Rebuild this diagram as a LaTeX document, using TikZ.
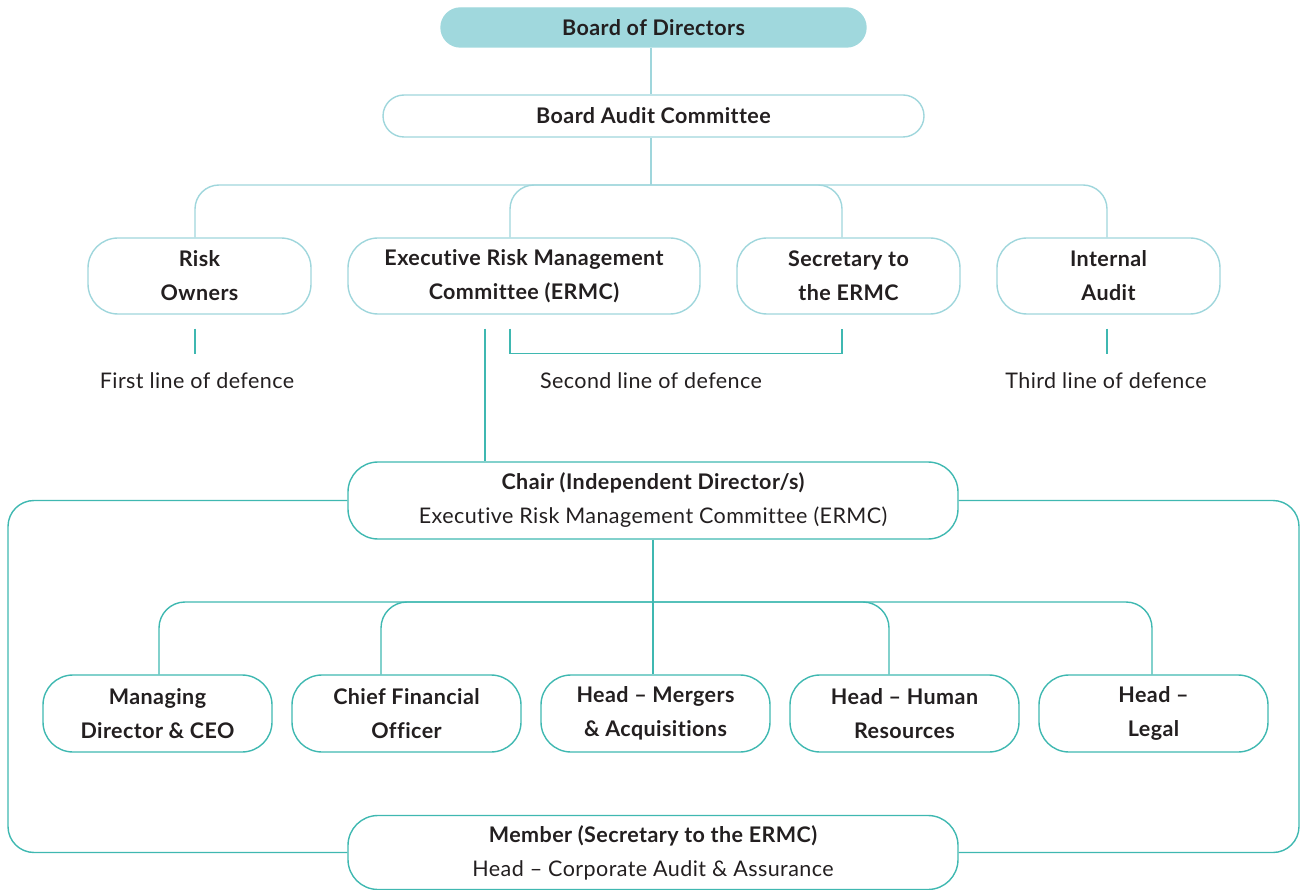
\documentclass[tikz,border=0pt]{standalone}
\usepackage{fontspec}
\setmainfont{Lato}[LetterSpace=2.0, Ligatures={NoCommon}]
\usetikzlibrary{calc}
\definecolor{lt}{HTML}{9FD6DC}
\definecolor{bodfill}{HTML}{A0D8DD}
\definecolor{dk}{HTML}{3FB8B1}
\definecolor{ink}{HTML}{231F20}
\newcommand{\fsz}{\fontsize{21.5}{34}\selectfont}
\tikzset{
  every node/.style={text=ink},
  box/.style={draw=lt, line width=1.4pt, rounded corners=30pt, inner sep=0pt, align=center, font=\fsz\bfseries},
  ltbox/.style={box, draw=lt},
  dkbox/.style={box, draw=dk},
  lline/.style={draw=lt, line width=1.4pt},
  dline/.style={draw=dk, line width=1.4pt},
  lbl/.style={font=\fsz, inner sep=0pt},
}
\begin{document}
\begin{tikzpicture}[x=1pt,y=-1pt]
\path[use as bounding box] (0,0) rectangle (1302,890);
% top
\node[box, draw=bodfill, fill=bodfill, minimum width=425pt, minimum height=39pt, rounded corners=19.5pt] (bod) at (653.5,27.5) {Board of Directors};
\node[ltbox, minimum width=541pt, minimum height=42pt, rounded corners=21pt] (bac) at (653.5,116) {Board Audit Committee};
% row 2
\node[ltbox, minimum width=223pt, minimum height=76pt] (ro) at (199.5,276) {Risk\\Owners};
\node[ltbox, minimum width=352pt, minimum height=76pt] (ermc) at (524,276) {Executive Risk Management\\Committee (ERMC)};
\node[ltbox, minimum width=223pt, minimum height=76pt] (sec) at (848.5,276) {Secretary to\\the ERMC};
\node[ltbox, minimum width=223pt, minimum height=76pt] (ia) at (1108.5,276) {Internal\\Audit};
% labels
\node[lbl] (l1) at (197,381) {First line of defence};
\node[lbl] (l2) at (651,381) {Second line of defence};
\node[lbl] (l3) at (1106,381) {Third line of defence};
% chair and member
\node[dkbox, minimum width=610pt, minimum height=77pt] (chair) at (653,500.5) {Chair (Independent Director/s)\\\mdseries Executive Risk Management Committee (ERMC)};
\node[dkbox, minimum width=610pt, minimum height=74pt] (mem) at (653,852.5) {Member (Secretary to the ERMC)\\\mdseries Head -- Corporate Audit \& Assurance};
% row 3
\node[dkbox, minimum width=229pt, minimum height=77pt] (md) at (157.5,713.5) {Managing\\Director \& CEO};
\node[dkbox, minimum width=229pt, minimum height=77pt] (cfo) at (406.5,713.5) {Chief Financial\\Officer};
\node[dkbox, minimum width=229pt, minimum height=77pt] (mna) at (655.5,713.5) {Head -- Mergers\\\& Acquisitions};
\node[dkbox, minimum width=229pt, minimum height=77pt] (hr) at (904.5,713.5) {Head -- Human\\Resources};
\node[dkbox, minimum width=229pt, minimum height=77pt] (leg) at (1153.5,713.5) {Head --\\Legal};
% upper connectors
\coordinate (j1) at (651,185);
\draw[lline] (bod.south -| j1) -- (bac.north -| j1);
\draw[lline] (bac.south -| j1) -- (j1);
\draw[lline, rounded corners=24pt] ($(ro.north)+(-4.5,0)$) |- (j1) -| ($(ia.north)+(-1.5,0)$);
\draw[lline, rounded corners=24pt] ($(ermc.north)+(-14,0)$) |- (j1) -| ($(sec.north)+(-6.5,0)$);
% lines of defence
\coordinate (d1a) at ($(ro.south)+(-4.5,14)$);
\coordinate (d1b) at ($(ro.south)+(-4.5,39)$);
\draw[dline] (d1a) -- (d1b);
\coordinate (d2a) at ($(ermc.south)+(-14,14)$);
\coordinate (d2b) at ($(sec.south)+(-6.5,14)$);
\draw[dline] (d2a) -- ++(0,25) -| (d2b);
\coordinate (d3a) at ($(ia.south)+(-1.5,14)$);
\coordinate (d3b) at ($(ia.south)+(-1.5,39)$);
\draw[dline] (d3a) -- (d3b);
% ERMC to chair
\coordinate (e1) at ($(ermc.south)+(-39,14)$);
\draw[dline] (e1) -- (e1 |- chair.north);
% loop
\coordinate (lc) at (8,700);
\coordinate (rc) at (1299,700);
\draw[dline, rounded corners=26pt] (chair.west) -| (lc) |- (mem.west);
\draw[dline, rounded corners=26pt] (chair.east) -| (rc) |- (mem.east);
% row 3 connectors
\coordinate (j2) at (653,602);
\draw[dline] (chair.south) -- (chair.south |- mna.north);
\draw[dline, rounded corners=26pt] ($(md.north)+(1.5,0)$) |- (j2) -| ($(leg.north)+(-1.5,0)$);
\draw[dline, rounded corners=26pt] ($(cfo.north)+(-25.5,0)$) |- (j2) -| ($(hr.north)+(-15.5,0)$);
\end{tikzpicture}
\end{document}
